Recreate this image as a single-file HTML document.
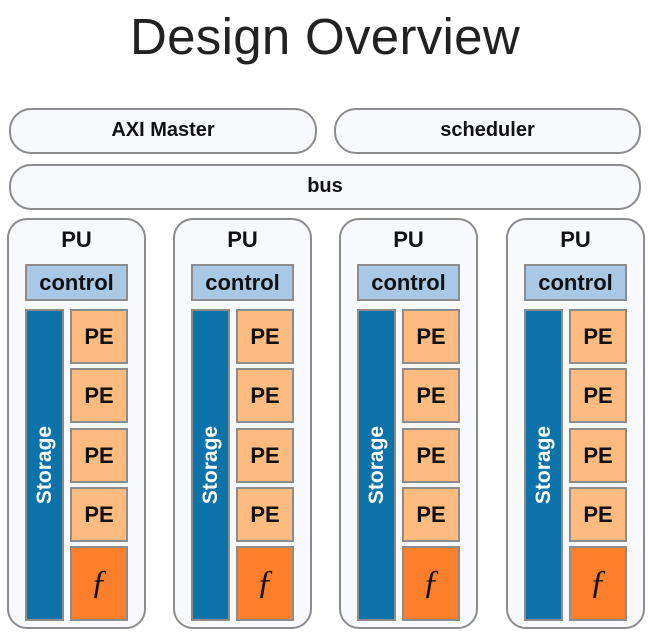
<!DOCTYPE html>
<html><head><meta charset="utf-8"><style>
body{margin:0;width:650px;height:634px;background:#fff;position:relative;overflow:hidden;font-family:"Liberation Sans",Arial,sans-serif}
div{position:absolute;box-sizing:border-box}
.t{left:0;width:650px;top:7px;text-align:center;font-size:51px;color:#222;letter-spacing:0.3px}
.pill{border:2px solid #8c8c8c;background:#f8f9fd;border-radius:22px;text-align:center;font-weight:bold;font-size:20px;line-height:41px;color:#111}
.pu{border:2px solid #8c8c8c;background:#f8f9fd;border-radius:20px;width:139px;top:218px;height:411px}
.lab{left:0;width:135px;top:7px;text-align:center;font-weight:bold;font-size:22px;color:#111}
.ctl{left:16px;top:44px;width:103px;height:37px;background:#a9c8e6;border:2px solid #8c8c8c;text-align:center;font-weight:bold;font-size:22px;line-height:34px;color:#111}
.st{left:16px;top:89px;width:39px;height:312px;background:#0b72aa;border:2px solid #8c8c8c}
.st span{position:absolute;left:50%;top:50%;transform:translate(-50%,-50%) rotate(-90deg);color:#fff;font-weight:bold;font-size:21px;white-space:nowrap}
.pe{left:61px;width:58px;height:55px;background:#fdbb80;border:2px solid #8c8c8c;text-align:center;font-weight:bold;font-size:22px;line-height:51px;color:#111}
.f{left:61px;top:326px;width:58px;height:75px;background:#fd7f2c;border:2px solid #8c8c8c;text-align:center;font-family:"Liberation Serif",serif;font-style:italic;font-size:34px;line-height:70px;color:#111}
</style></head><body>
<div class="t">Design Overview</div>
<div class="pill" style="left:9px;top:108px;width:308px;height:46px">AXI Master</div>
<div class="pill" style="left:334px;top:108px;width:307px;height:46px">scheduler</div>
<div class="pill" style="left:9px;top:164px;width:632px;height:46px">bus</div>

<div class="pu" style="left:7px"><div class="lab">PU</div><div class="ctl">control</div><div class="st"><span>Storage</span></div>
<div class="pe" style="top:89px">PE</div><div class="pe" style="top:148px">PE</div><div class="pe" style="top:208px">PE</div><div class="pe" style="top:267px">PE</div><div class="f">ƒ</div></div>

<div class="pu" style="left:173px"><div class="lab">PU</div><div class="ctl">control</div><div class="st"><span>Storage</span></div>
<div class="pe" style="top:89px">PE</div><div class="pe" style="top:148px">PE</div><div class="pe" style="top:208px">PE</div><div class="pe" style="top:267px">PE</div><div class="f">ƒ</div></div>

<div class="pu" style="left:339px"><div class="lab">PU</div><div class="ctl">control</div><div class="st"><span>Storage</span></div>
<div class="pe" style="top:89px">PE</div><div class="pe" style="top:148px">PE</div><div class="pe" style="top:208px">PE</div><div class="pe" style="top:267px">PE</div><div class="f">ƒ</div></div>

<div class="pu" style="left:506px"><div class="lab">PU</div><div class="ctl">control</div><div class="st"><span>Storage</span></div>
<div class="pe" style="top:89px">PE</div><div class="pe" style="top:148px">PE</div><div class="pe" style="top:208px">PE</div><div class="pe" style="top:267px">PE</div><div class="f">ƒ</div></div>
</body></html>
